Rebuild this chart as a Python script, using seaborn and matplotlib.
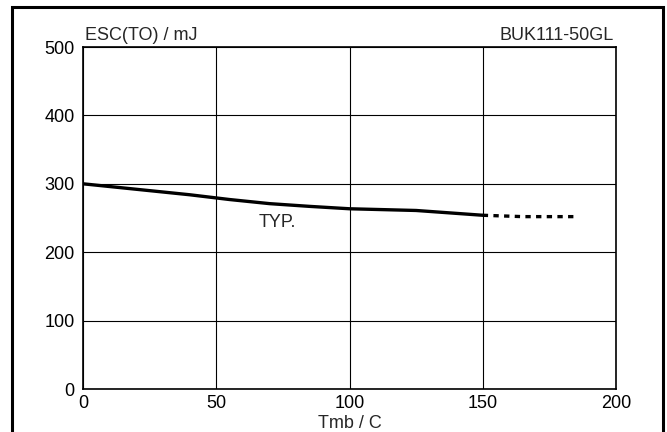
import pandas as pd
import numpy as np
import matplotlib.pyplot as plt
import seaborn as sns
from matplotlib.patches import Rectangle

# curve
tmb_typ = [0, 20, 40, 55, 70, 85, 100, 125, 150]
esc_typ = [300, 292, 284, 277, 271, 267, 263.5, 261, 254]
# extrapolated part (dotted)
tmb_ext = [150, 165, 185]
esc_ext = [254, 252, 252]

x_ticks = [0, 50, 100, 150, 200]
y_ticks = [0, 100, 200, 300, 400, 500]

sns.set_style("white")
plt.rcParams['font.family'] = ['Liberation Sans', 'DejaVu Sans']
fs = 13

fig = plt.figure(figsize=(6.67, 4.32), dpi=100)
ax = fig.add_axes([83/667, 1 - 389/432, (616 - 83)/667, (389 - 47)/432])

df_typ = pd.DataFrame({'tmb': tmb_typ, 'esc': esc_typ})
df_ext = pd.DataFrame({'tmb': tmb_ext, 'esc': esc_ext})
sns.lineplot(data=df_typ, x='tmb', y='esc', ax=ax, color='black', lw=2.4)
sns.lineplot(data=df_ext, x='tmb', y='esc', ax=ax, color='black', lw=2.4,
             linestyle=(0, (1.6, 1.6)))

ax.set_xlim(0, 200)
ax.set_ylim(0, 500)
ax.set_xticks(x_ticks)
ax.set_yticks(y_ticks)
ax.grid(True, color='black', lw=0.8)
for s in ax.spines.values():
    s.set_color('black')
    s.set_linewidth(1.2)
ax.tick_params(length=0, labelsize=fs, colors='black')
ax.tick_params(axis='x', pad=4.5)
ax.tick_params(axis='y', pad=6)
ax.set_xlabel('Tmb / C', fontsize=fs, labelpad=2)
ax.set_ylabel('')

ax.text(0.003, 1.008, 'ESC(TO) / mJ', transform=ax.transAxes, fontsize=fs,
        ha='left', va='bottom')
ax.text(0.995, 1.008, 'BUK111-50GL', transform=ax.transAxes, fontsize=fs,
        ha='right', va='bottom')
ax.text(66, 244, 'TYP.', fontsize=fs, ha='left', va='center')

# outer frame of the datasheet figure
fig.patches.append(Rectangle((12/667, -0.02), (663 - 12)/667, 1 - 7/432 + 0.02,
                             transform=fig.transFigure, fill=False,
                             edgecolor='black', lw=2.2))

fig.savefig('out.png', dpi=100)
